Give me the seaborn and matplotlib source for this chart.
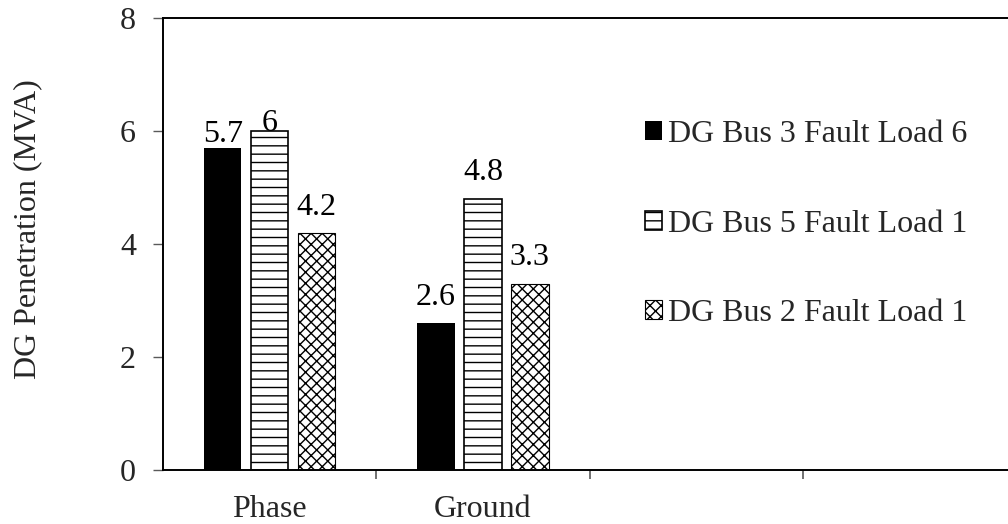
import matplotlib
matplotlib.use("Agg")
import matplotlib.pyplot as plt
import seaborn as sns
import pandas as pd

# Fault types on the x axis and the three DG placement cases
fault_types = ["Phase", "Ground"]
cases = ["DG Bus 3 Fault Load 6", "DG Bus 5 Fault Load 1", "DG Bus 2 Fault Load 1"]
phase_mva = [5.7, 6.0, 4.2]
ground_mva = [2.6, 4.8, 3.3]

# Per-case styling
face_colors = ["black", "white", "white"]
hatches = ["", "--", "xxx"]
edge_widths = [0.0, 1.2, 0.8]
# vertical offset (points) of each value label above its bar, per fault type
label_offsets = {"Phase": [4.3, 0.3, 12.7], "Ground": [13.0, 13.5, 13.3]}

rows = []
for ci, case in enumerate(cases):
    rows.append({"fault": "Phase", "case": case, "mva": phase_mva[ci]})
    rows.append({"fault": "Ground", "case": case, "mva": ground_mva[ci]})
df = pd.DataFrame(rows)

sns.set_style("ticks")
plt.rcParams["font.family"] = ["Liberation Serif", "DejaVu Serif"]
plt.rcParams["hatch.linewidth"] = 1.0
FS = 23

fig = plt.figure(figsize=(10.08, 5.24), dpi=100)
ax = fig.add_axes([163 / 1008, 54 / 524, 853 / 1008, 452 / 524])

sns.barplot(data=df, x="fault", y="mva", hue="case", order=fault_types,
            hue_order=cases, palette=face_colors, width=0.66, gap=0.2,
            saturation=1, edgecolor="black", legend=False, ax=ax, errorbar=None)

for ci, cont in enumerate(ax.containers):
    for patch in cont.patches:
        patch.set_hatch(hatches[ci])
        patch.set_linewidth(edge_widths[ci])
        patch.set_edgecolor("black")

# value labels above each bar
for ci, cont in enumerate(ax.containers):
    for fi, patch in enumerate(cont.patches):
        fault = fault_types[fi]
        val = phase_mva[ci] if fault == "Phase" else ground_mva[ci]
        ax.annotate(f"{val:g}", (patch.get_x() + patch.get_width() / 2, val),
                    xytext=(0, label_offsets[fault][ci]), textcoords="offset points",
                    ha="center", va="baseline", fontsize=FS, color="black")

ax.set_xlim(-0.5, 3.5)
ax.set_ylim(0, 8)
ax.set_yticks([0, 2, 4, 6, 8])
ax.set_xticks([0, 1])
ax.set_xticklabels(fault_types)
ax.set_xticks([0.5, 1.5, 2.5], minor=True)
ax.set_xlabel("")
ax.set_ylabel("DG Penetration (MVA)", fontsize=FS)
ax.yaxis.set_label_coords(-0.142, 0.533)

ax.tick_params(axis="x", which="major", length=0, pad=18, labelsize=FS)
ax.tick_params(axis="x", which="minor", length=6.5, width=1.2, color="#595959",
               direction="out")
ax.tick_params(axis="y", length=7, width=1.0, color="#595959", pad=12.5,
               labelsize=FS)

for side in ["left", "bottom", "top", "right"]:
    ax.spines[side].set_visible(True)
    ax.spines[side].set_linewidth(1.4)
    ax.spines[side].set_color("black")

handles = [cont.patches[0] for cont in ax.containers]
leg = ax.legend(handles, cases, loc="center left",
                bbox_to_anchor=(645 / 1008, 1 - 224 / 524),
                bbox_transform=fig.transFigure, frameon=False, fontsize=FS,
                borderpad=0, borderaxespad=0, handlelength=0.53,
                handleheight=0.53, handletextpad=0.2, labelspacing=1.9)

fig.savefig("out.png", dpi=100)
